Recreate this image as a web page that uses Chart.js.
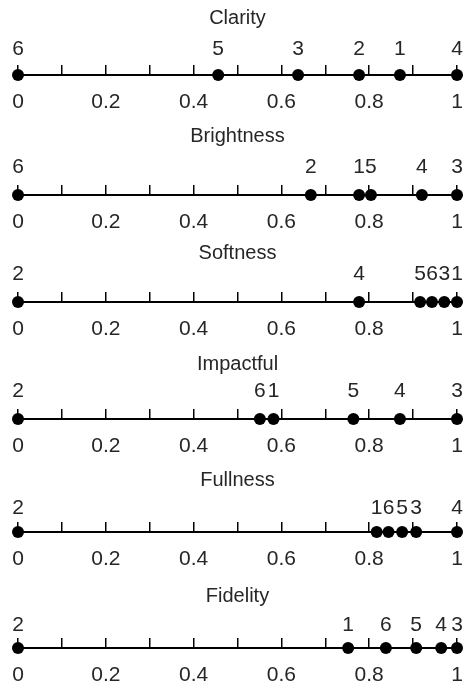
<!DOCTYPE html>
<html>
<head>
<meta charset="utf-8">
<script src="https://cdn.jsdelivr.net/npm/chart.js@4"></script>
<style>
  body { margin: 0; background: #fff; }
  #wrap { position: relative; width: 463px; height: 687px; overflow: hidden; }
  #wrap canvas { position: absolute; left: 0; }
</style>
</head>
<body>
<div id="wrap"></div>
<script>
// panel titles
const categories = ['Clarity', 'Brightness', 'Softness', 'Impactful', 'Fullness', 'Fidelity'];
// item numbers shown above the dots
const itemIds = ['1', '2', '3', '4', '5', '6'];
// value of items 1..6 in each panel
const clarity    = [0.870, 0.777, 0.638, 1.000, 0.456, 0.000];
const brightness = [0.777, 0.667, 1.000, 0.920, 0.804, 0.000];
const softness   = [1.000, 0.000, 0.971, 0.777, 0.916, 0.943];
const impactful  = [0.582, 0.000, 1.000, 0.870, 0.764, 0.551];
const fullness   = [0.817, 0.000, 0.907, 1.000, 0.875, 0.844];
const fidelity   = [0.752, 0.000, 1.000, 0.964, 0.907, 0.838];
const tickLabels = ['0', '0.2', '0.4', '0.6', '0.8', '1'];

const seriesList = [clarity, brightness, softness, impactful, fullness, fidelity];

// layout per panel (pixels in the page)
const axisY   = [75, 195, 302, 419, 532, 648];
const titleY  = [18, 136, 253, 364, 480, 596];
const numberGap = [26, 28, 28, 28, 24, 23];

const CANVAS_H = 115;
const AXIS_IN_CANVAS = 75;
const TICK_LEN = 10;
const TITLE_FONT = 20;
const FONT = '"Liberation Sans", Arial, sans-serif';
const TEXT = '#262626';

// draws the item numbers above each dot
const numberLabels = {
  id: 'numberLabels',
  afterDatasetsDraw(chart, args, opts) {
    const ctx = chart.ctx;
    const meta = chart.getDatasetMeta(0);
    ctx.save();
    ctx.fillStyle = TEXT;
    ctx.font = '21px ' + FONT;
    ctx.textAlign = 'center';
    ctx.textBaseline = 'middle';
    meta.data.forEach((pt, i) => {
      ctx.fillText(itemIds[i], pt.x, chart.chartArea.bottom - opts.gap);
    });
    ctx.restore();
  }
};

const wrap = document.getElementById('wrap');

categories.forEach((name, p) => {
  const canvas = document.createElement('canvas');
  canvas.width = 463;
  canvas.height = CANVAS_H;
  const top = axisY[p] - AXIS_IN_CANVAS;
  canvas.style.top = top + 'px';
  wrap.appendChild(canvas);

  const lineH = TITLE_FONT * 1.2;
  const padTop = titleY[p] - top - lineH / 2;
  const padBottom = (AXIS_IN_CANVAS - TICK_LEN) - padTop - lineH;

  new Chart(canvas, {
    type: 'scatter',
    data: {
      datasets: [{
        data: seriesList[p].map(v => ({ x: v, y: 0 })),
        backgroundColor: '#000',
        borderWidth: 0,
        pointRadius: 6,
        pointHoverRadius: 6,
        clip: false
      }]
    },
    plugins: [numberLabels],
    options: {
      responsive: false,
      animation: false,
      events: [],
      layout: { autoPadding: false, padding: { left: 18, right: 6, top: 0, bottom: 0 } },
      scales: {
        x: {
          type: 'linear',
          min: 0,
          max: 1,
          // fixed axis height, no extra side padding for the end labels
          afterFit: s => {
            s.height = CANVAS_H - AXIS_IN_CANVAS;
            s.paddingLeft = 0;
            s.paddingRight = 0;
          },
          grid: { color: '#000', lineWidth: 1.5, drawTicks: false, drawOnChartArea: true },
          border: { display: true, color: '#000', width: 2 },
          ticks: {
            stepSize: 0.1,
            padding: 15,
            color: TEXT,
            maxRotation: 0,
            autoSkip: false,
            font: { family: FONT, size: 21 },
            callback: v => {
              const k = Math.round(v * 10);
              return k % 2 === 0 ? tickLabels[k / 2] : '';
            }
          }
        },
        y: { display: false, min: 0, max: 1 }
      },
      plugins: {
        legend: { display: false },
        tooltip: { enabled: false },
        title: {
          display: true,
          text: name,
          color: TEXT,
          font: { family: FONT, size: TITLE_FONT, weight: 'normal', lineHeight: 1.2 },
          padding: { top: padTop, bottom: padBottom }
        },
        numberLabels: { gap: numberGap[p] }
      }
    }
  });
});
</script>
</body>
</html>
